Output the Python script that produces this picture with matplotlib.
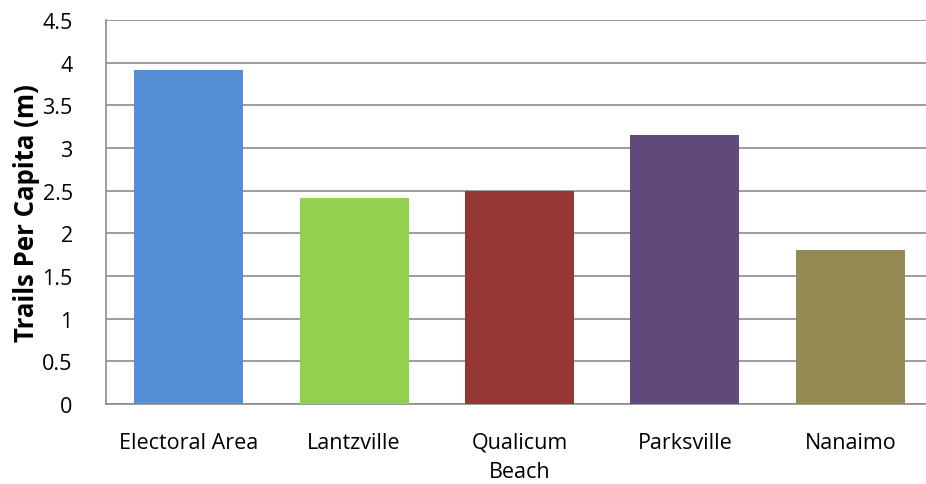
import matplotlib
matplotlib.use("Agg")
import matplotlib.pyplot as plt
import numpy as np

categories = ["Electoral Area", "Lantzville", "Qualicum\nBeach", "Parksville", "Nanaimo"]
values = [3.91, 2.41, 2.50, 3.15, 1.80]
colors = ["#558ED5", "#92D050", "#953735", "#604A7B", "#948A54"]
yticks = [0, 0.5, 1, 1.5, 2, 2.5, 3, 3.5, 4, 4.5]
ytick_labels = ["0", "0.5", "1", "1.5", "2", "2.5", "3", "3.5", "4", "4.5"]

plt.rcParams["font.family"] = ["Open Sans", "DejaVu Sans"]

fig = plt.figure(figsize=(9.26, 4.85), dpi=100)
ax = fig.add_axes([106 / 926, 1 - 405 / 485, 827 / 926, 384 / 485])

x = np.arange(len(categories))
ax.bar(x, values, width=0.66, color=colors, zorder=3)

ax.set_xlim(-0.5, len(categories) - 0.5)
ax.set_ylim(0, 4.5)
ax.set_yticks(yticks)
ax.set_yticklabels(ytick_labels, fontsize=15.5)
ax.set_xticks(x)
ax.set_xticklabels(categories, fontsize=15.5, linespacing=1.5)
ax.tick_params(axis="y", length=0, pad=24)
ax.tick_params(axis="x", length=0, pad=20)

ax.grid(axis="y", color="#8c8c8c", linewidth=1.2, zorder=0)
for side in ["top", "right"]:
    ax.spines[side].set_visible(False)
ax.spines["left"].set_color("#8c8c8c")
ax.spines["bottom"].set_color("#8c8c8c")
ax.spines["left"].set_linewidth(1.2)
ax.spines["bottom"].set_linewidth(1.2)

ax.set_ylabel("Trails Per Capita (m)", fontsize=18.5, fontweight="bold", labelpad=2)

fig.savefig("out.png", dpi=100)
